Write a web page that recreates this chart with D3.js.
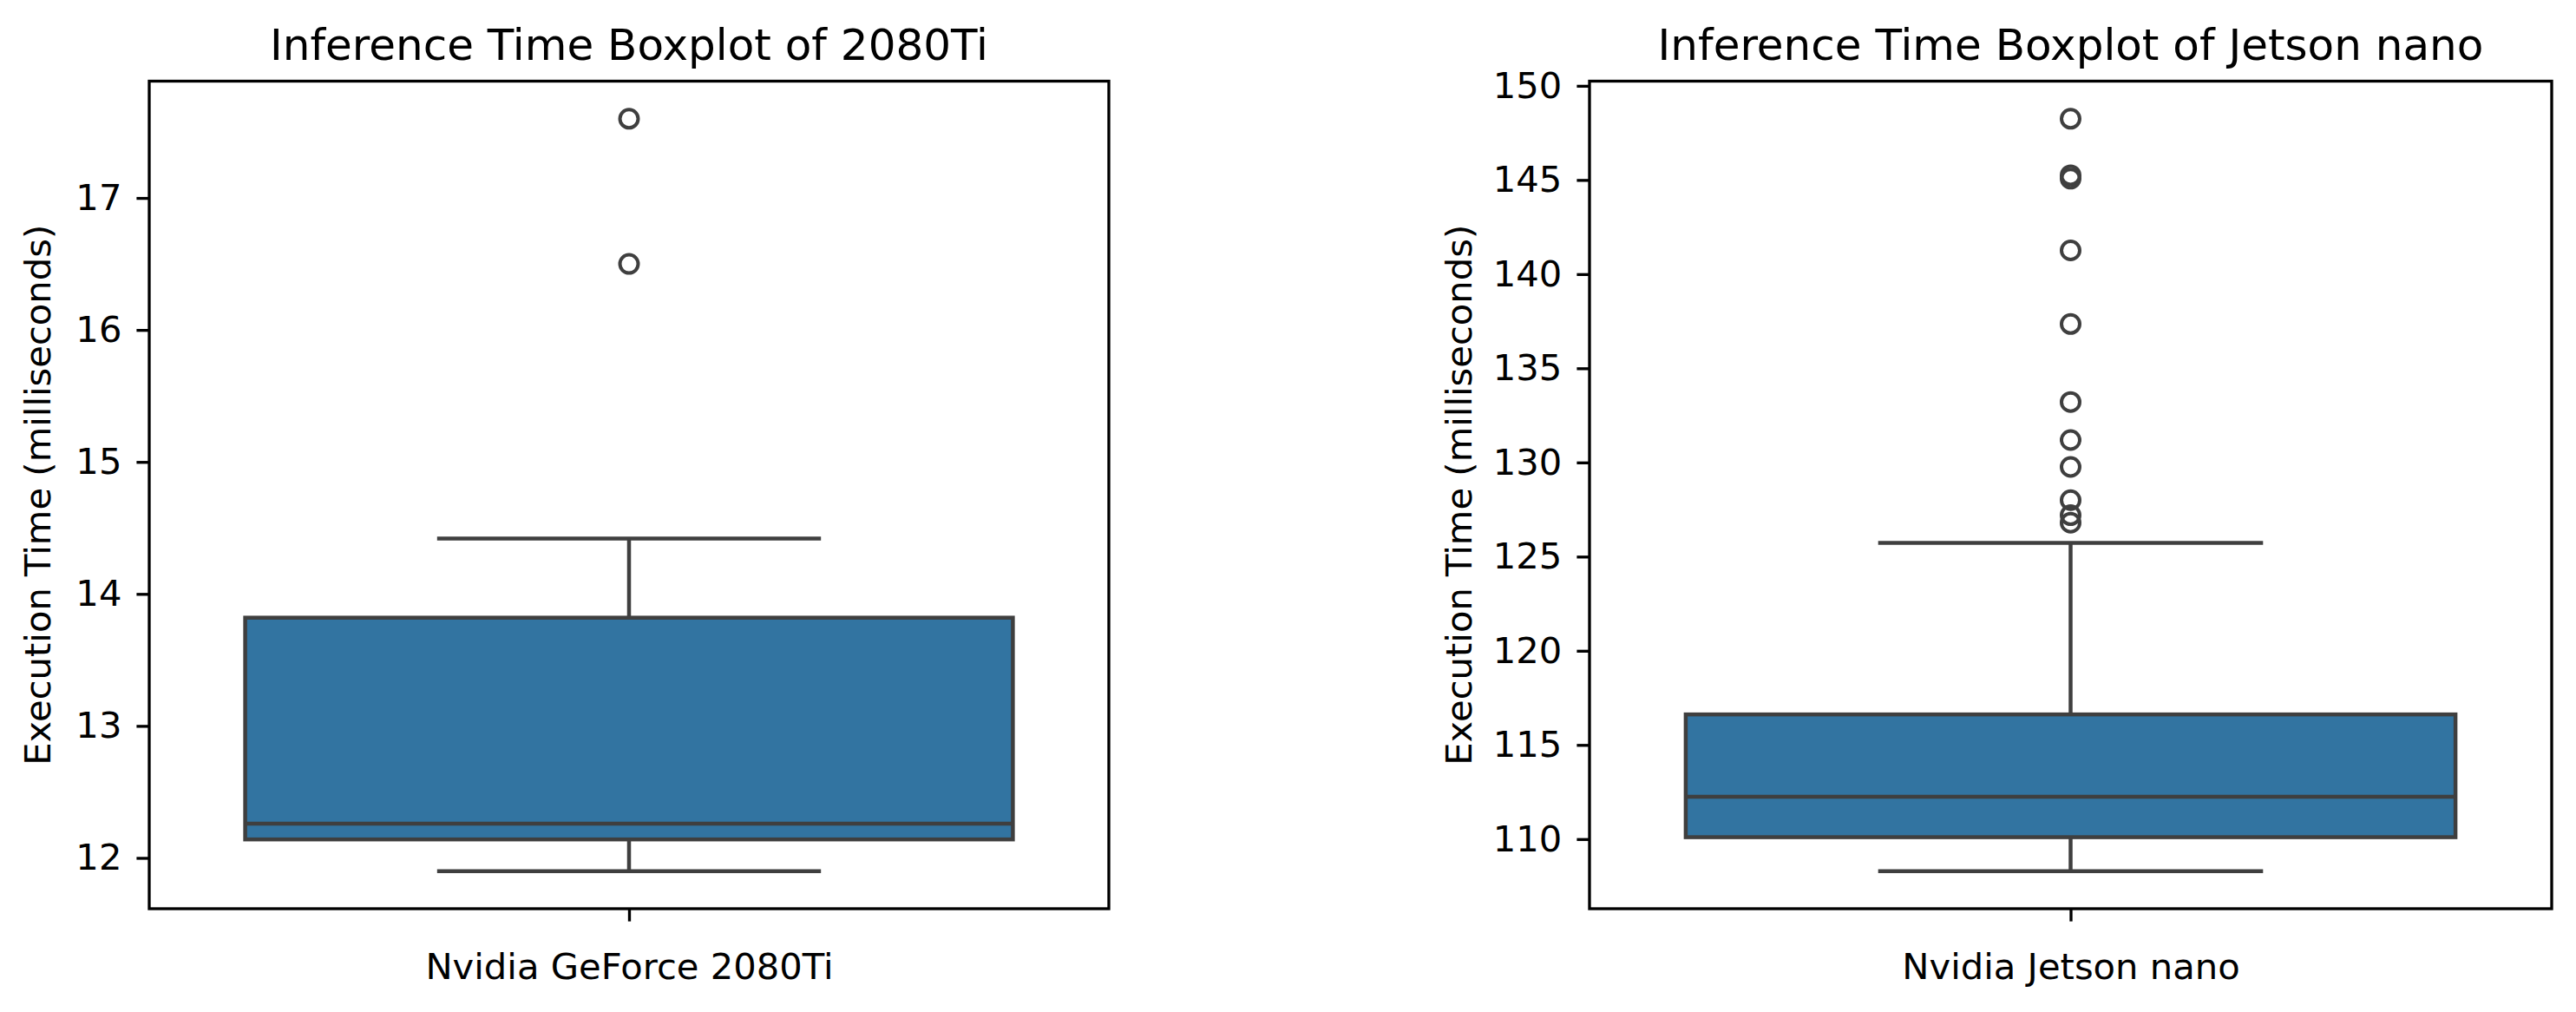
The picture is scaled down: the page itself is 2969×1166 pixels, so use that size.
<!DOCTYPE html>
<html>
<head>
<meta charset="utf-8">
<script src="https://cdn.jsdelivr.net/npm/d3@7"></script>
<style>
  html, body { margin: 0; padding: 0; background: #ffffff; }
  svg { display: block; }
  text { font-family: "DejaVu Sans", sans-serif; fill: #000; }
</style>
</head>
<body>
<svg id="chart" width="2969" height="1166"></svg>
<script>
// ---------------- data ----------------
const titles = ["Inference Time Boxplot of 2080Ti", "Inference Time Boxplot of Jetson nano"];
const categories = ["Nvidia GeForce 2080Ti", "Nvidia Jetson nano"];
const yLabel = "Execution Time (milliseconds)";
// box statistics [whiskerLow, q1, median, q3, whiskerHigh]
const stats2080 = [11.90, 12.14, 12.26, 13.82, 14.42];
const statsNano = [108.30, 110.10, 112.25, 116.62, 125.73];
const outliers2080 = [17.60, 16.50];
const outliersNano = [148.25, 145.25, 145.07, 141.26, 137.35, 133.21, 131.19, 129.76, 128.0, 127.2, 126.8];
const ticks2080 = [12, 13, 14, 15, 16, 17];
const ticksNano = [110, 115, 120, 125, 130, 135, 140, 145, 150];

// ---------------- layout ----------------
const svg = d3.select("#chart");
const panels = [
  { title: titles[0], cat: categories[0], stats: stats2080, out: outliers2080, ticks: ticks2080,
    x0: 172, x1: 1278, ylabX: 58 },
  { title: titles[1], cat: categories[1], stats: statsNano, out: outliersNano, ticks: ticksNano,
    x0: 1832, x1: 2941, ylabX: 1696 }
];
const plotTop = 93.5, plotBottom = 1047;
const boxFill = "#3274a1", lineCol = "#3f3f3f";
const lw = 4.5;

panels.forEach(p => {
  const allVals = p.stats.concat(p.out);
  const [mn, mx] = d3.extent(allVals);
  const pad = (mx - mn) * 0.05;
  const y = d3.scaleLinear().domain([mn - pad, mx + pad]).range([plotBottom, plotTop]);
  const x = d3.scaleLinear().domain([-0.5, 0.5]).range([p.x0, p.x1]);
  const g = svg.append("g");

  const [wl, q1, med, q3, wh] = p.stats;
  const cx = x(0);
  // whiskers
  g.append("line").attr("x1", cx).attr("x2", cx).attr("y1", y(q3)).attr("y2", y(wh))
    .attr("stroke", lineCol).attr("stroke-width", lw);
  g.append("line").attr("x1", cx).attr("x2", cx).attr("y1", y(q1)).attr("y2", y(wl))
    .attr("stroke", lineCol).attr("stroke-width", lw);
  // caps
  [wl, wh].forEach(v => {
    g.append("line").attr("x1", x(-0.2)).attr("x2", x(0.2)).attr("y1", y(v)).attr("y2", y(v))
      .attr("stroke", lineCol).attr("stroke-width", lw);
  });
  // box
  g.append("rect").attr("x", x(-0.4)).attr("width", x(0.4) - x(-0.4))
    .attr("y", y(q3)).attr("height", y(q1) - y(q3))
    .attr("fill", boxFill).attr("stroke", lineCol).attr("stroke-width", lw);
  // median
  g.append("line").attr("x1", x(-0.4)).attr("x2", x(0.4)).attr("y1", y(med)).attr("y2", y(med))
    .attr("stroke", lineCol).attr("stroke-width", lw);
  // outliers
  g.selectAll("circle.fl").data(p.out).enter().append("circle")
    .attr("cx", cx).attr("cy", d => y(d)).attr("r", 10.5)
    .attr("fill", "none").attr("stroke", lineCol).attr("stroke-width", 4);

  // y axis
  const ya = g.append("g").attr("transform", `translate(${p.x0},0)`)
    .call(d3.axisLeft(y).tickValues(p.ticks).tickFormat(d3.format("d")).tickSize(14.6).tickPadding(17));
  ya.select(".domain").remove();
  ya.selectAll(".tick line").attr("stroke", "#000").attr("stroke-width", 3.33);
  ya.selectAll(".tick text").attr("font-size", 41.7).attr("font-family", "DejaVu Sans").attr("fill", "#000");

  // x axis
  const xa = g.append("g").attr("transform", `translate(0,${plotBottom})`)
    .call(d3.axisBottom(x).tickValues([0]).tickFormat(() => p.cat).tickSize(14.6).tickPadding(17));
  xa.select(".domain").remove();
  xa.selectAll(".tick line").attr("stroke", "#000").attr("stroke-width", 3.33);
  xa.selectAll(".tick text").attr("font-size", 41.7).attr("font-family", "DejaVu Sans")
    .attr("fill", "#000").attr("dy", null).attr("y", 81).attr("dominant-baseline", "alphabetic");

  // frame
  g.append("rect").attr("x", p.x0).attr("y", plotTop).attr("width", p.x1 - p.x0).attr("height", plotBottom - plotTop)
    .attr("fill", "none").attr("stroke", "#000").attr("stroke-width", 3.33);

  // title
  g.append("text").attr("x", (p.x0 + p.x1) / 2).attr("y", 68.5).attr("text-anchor", "middle")
    .attr("font-size", 50).text(p.title);
  // y label
  g.append("text").attr("transform", `translate(${p.ylabX},${(plotTop + plotBottom) / 2}) rotate(-90)`)
    .attr("text-anchor", "middle").attr("font-size", 41.7).text(yLabel);
});
</script>
</body>
</html>
